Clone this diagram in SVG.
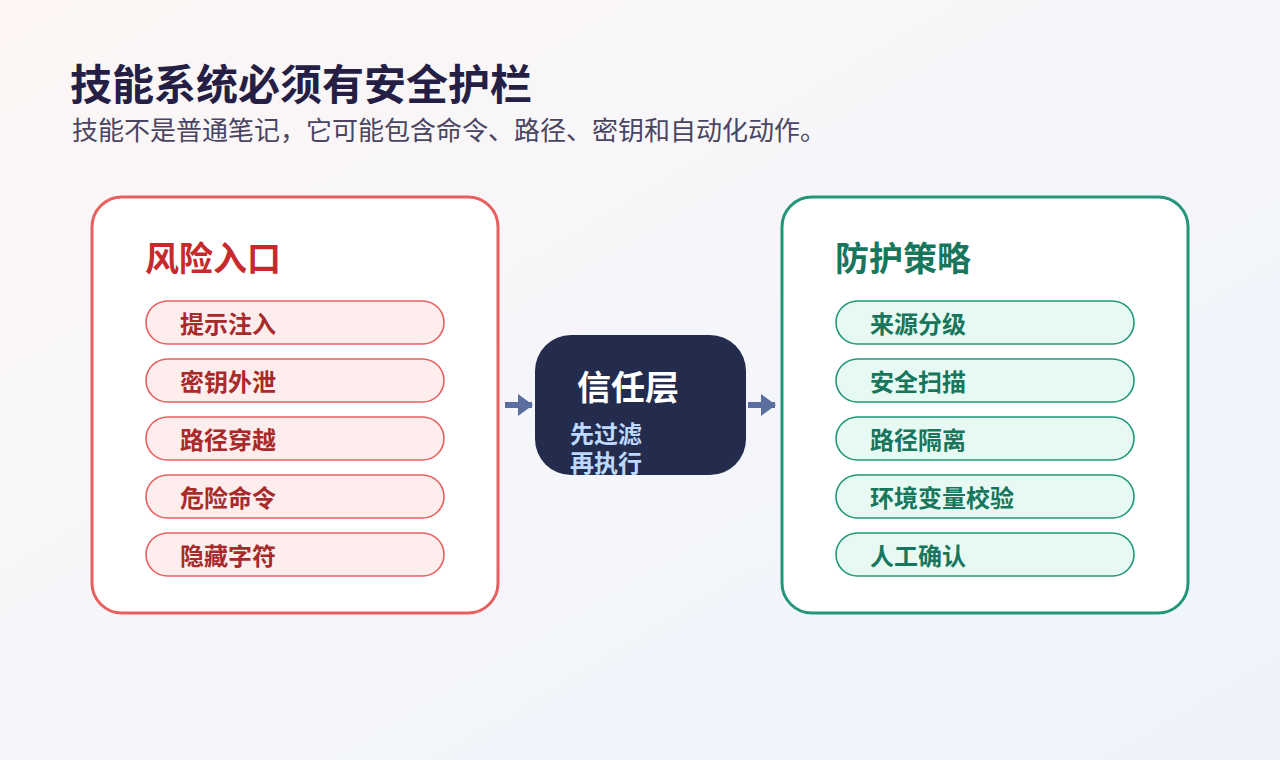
<svg xmlns="http://www.w3.org/2000/svg" width="1280" height="760" viewBox="0 0 1280 760">
<defs>
<linearGradient id="bg" x1="0" y1="0" x2="1" y2="1">
<stop offset="0" stop-color="#fdf6f5"/>
<stop offset="0.5" stop-color="#f5f6fa"/>
<stop offset="1" stop-color="#eef3fc"/>
</linearGradient>
<marker id="ah" viewBox="0 0 15 22" refX="14" refY="11" markerWidth="15" markerHeight="22" markerUnits="userSpaceOnUse" orient="auto">
<path d="M0,0 L15,11 L0,22 Z" fill="#5b6ea0"/>
</marker>
<style>
text{font-family:"Noto Sans CJK SC","Noto Sans",sans-serif;}
.title{font-size:42px;font-weight:700;fill:#261f45;}
.sub{font-size:26px;font-weight:400;fill:#4a4560;}
.panelR{fill:#ffffff;stroke:#e85f5f;stroke-width:3;}
.panelG{fill:#ffffff;stroke:#23967a;stroke-width:3;}
.hR{font-size:34px;font-weight:700;fill:#c62a2a;}
.hG{font-size:34px;font-weight:700;fill:#17765c;}
.pillR{fill:#feeded;stroke:#e85f5f;stroke-width:1.6;}
.pillG{fill:#e6faf3;stroke:#23967a;stroke-width:1.6;}
.tR{font-size:24px;font-weight:700;fill:#a82a2a;}
.tG{font-size:24px;font-weight:700;fill:#17765c;}
.conn{stroke:#5b6ea0;stroke-width:6;fill:none;}
</style>
</defs>
<rect x="0" y="0" width="1280" height="760" fill="url(#bg)"/>
<g id="header">
<text class="title" x="70" y="100">技能系统必须有安全护栏</text>
<text class="sub" x="72" y="140">技能不是普通笔记，它可能包含命令、路径、密钥和自动化动作。</text>
</g>
<g id="risk">
<rect class="panelR" x="92" y="197" width="406" height="416" rx="30"/>
<text class="hR" x="145" y="271">风险入口</text>
<rect class="pillR" x="146" y="301" width="298" height="43" rx="21.5"/>
<text class="tR" x="180" y="333">提示注入</text>
<rect class="pillR" x="146" y="359" width="298" height="43" rx="21.5"/>
<text class="tR" x="180" y="391">密钥外泄</text>
<rect class="pillR" x="146" y="417" width="298" height="43" rx="21.5"/>
<text class="tR" x="180" y="449">路径穿越</text>
<rect class="pillR" x="146" y="475" width="298" height="43" rx="21.5"/>
<text class="tR" x="180" y="507">危险命令</text>
<rect class="pillR" x="146" y="533" width="298" height="43" rx="21.5"/>
<text class="tR" x="180" y="565">隐藏字符</text>
</g>
<g id="trust">
<rect x="535" y="335" width="211" height="140" rx="36" fill="#242c4e"/>
<text x="577" y="400" font-size="34" font-weight="700" fill="#ffffff">信任层</text>
<text x="570" y="443" font-size="24" font-weight="700" fill="#bcd9ff">先过滤</text>
<text x="570" y="472" font-size="24" font-weight="700" fill="#bcd9ff">再执行</text>
</g>
<g id="defense">
<rect class="panelG" x="782" y="197" width="406" height="416" rx="30"/>
<text class="hG" x="835" y="271">防护策略</text>
<rect class="pillG" x="836" y="301" width="298" height="43" rx="21.5"/>
<text class="tG" x="870" y="333">来源分级</text>
<rect class="pillG" x="836" y="359" width="298" height="43" rx="21.5"/>
<text class="tG" x="870" y="391">安全扫描</text>
<rect class="pillG" x="836" y="417" width="298" height="43" rx="21.5"/>
<text class="tG" x="870" y="449">路径隔离</text>
<rect class="pillG" x="836" y="475" width="298" height="43" rx="21.5"/>
<text class="tG" x="870" y="507">环境变量校验</text>
<rect class="pillG" x="836" y="533" width="298" height="43" rx="21.5"/>
<text class="tG" x="870" y="565">人工确认</text>
</g>
<g id="connectors">
<line class="conn" x1="505" y1="405" x2="532" y2="405" marker-end="url(#ah)"/>
<line class="conn" x1="748" y1="405" x2="775" y2="405" marker-end="url(#ah)"/>
</g>
</svg>
